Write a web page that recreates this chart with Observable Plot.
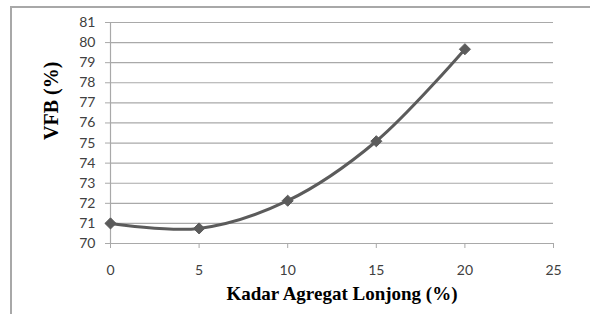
<!DOCTYPE html>
<html>
<head>
<meta charset="utf-8">
<script src="https://cdn.jsdelivr.net/npm/d3@7"></script>
<script src="https://cdn.jsdelivr.net/npm/@observablehq/plot@0.6"></script>
<style>
  html, body { margin: 0; padding: 0; background: #fff; }
  #wrap { position: relative; width: 590px; height: 314px; overflow: hidden; }
  #frame { position: absolute; left: 10px; top: 6px; width: 600px; height: 400px;
           border-top: 2px solid #a8a8a8; border-left: 2px solid #a8a8a8; box-sizing: border-box; }
  #wrap svg { position: absolute; left: 0; top: 0; }
</style>
</head>
<body>
<div id="wrap"><div id="frame"></div></div>
<script>
const kadar = [0, 5, 10, 15, 20];
const vfb = [71.0, 70.75, 72.13, 75.09, 79.67];
const yTicks = [70, 71, 72, 73, 74, 75, 76, 77, 78, 79, 80, 81];
const xTicks = [0, 5, 10, 15, 20, 25];
const xTitle = "Kadar Agregat Lonjong (%)";
const yTitle = "VFB (%)";

const data = kadar.map((k, i) => ({x: k, y: vfb[i]}));
const gridColor = "#a9a9a9";

const chart = Plot.plot({
  width: 590,
  height: 314,
  marginLeft: 110,
  marginRight: 37,
  marginTop: 22,
  marginBottom: 71,
  style: {background: "transparent", fontFamily: "Lato, sans-serif"},
  x: {domain: [0, 25]},
  y: {domain: [70, 81]},
  marks: [
    Plot.ruleY(yTicks, {stroke: gridColor, strokeWidth: 1.2}),
    Plot.ruleX([0], {stroke: gridColor, strokeWidth: 1.2}),
    Plot.axisY({ticks: yTicks, tickSize: 5, tickPadding: 10, stroke: gridColor, strokeOpacity: 1,
                fill: "#404040", fontSize: 14, label: null, tickFormat: d => d}),
    Plot.axisX({ticks: xTicks, tickSize: 5, tickPadding: 17, stroke: gridColor, strokeOpacity: 1,
                fill: "#404040", fontSize: 14, label: null, tickFormat: d => d}),
    Plot.line(data, {x: "x", y: "y", curve: "catmull-rom", stroke: "#5b5b5b", strokeWidth: 3}),
    Plot.dot(data, {x: "x", y: "y", symbol: "diamond2", r: 5, fill: "#5b5b5b", stroke: "#5b5b5b", strokeWidth: 1}),
    Plot.text([xTitle], {frameAnchor: "bottom", dx: 10, dy: 56, fontFamily: "Liberation Serif, serif",
               fontWeight: "bold", fontSize: 19, fill: "#000"}),
    Plot.text([yTitle], {frameAnchor: "left", dx: -59, dy: 7, rotate: -90, fontFamily: "Liberation Serif, serif",
               fontWeight: "bold", fontSize: 20, fill: "#000"})
  ]
});
document.getElementById("wrap").appendChild(chart);
</script>
</body>
</html>
